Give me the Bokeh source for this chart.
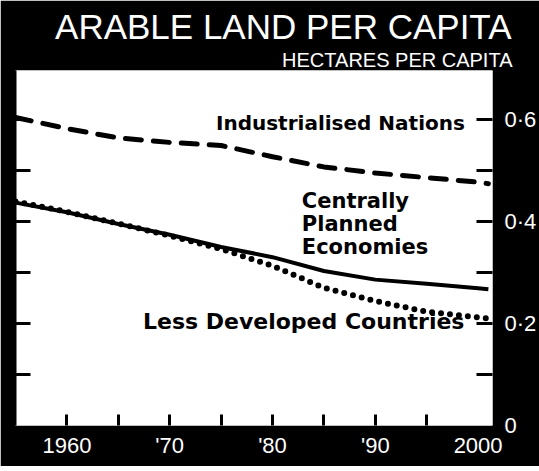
from bokeh.plotting import figure
from bokeh.models import LinearAxis, FixedTicker, Label, Range1d, Title
from bokeh.embed import file_html
from bokeh.resources import INLINE

# ---- data ----
years = [1955, 1960, 1965, 1970, 1975, 1980, 1985, 1990, 1995, 2000, 2001]
industrialised = [0.604, 0.582, 0.564, 0.555, 0.549, 0.527, 0.507, 0.495, 0.486, 0.477, 0.474]
centrally_planned = [0.437, 0.418, 0.395, 0.374, 0.350, 0.330, 0.303, 0.286, 0.278, 0.269, 0.267]
less_developed = [0.439, 0.419, 0.396, 0.372, 0.346, 0.313, 0.270, 0.244, 0.223, 0.212, 0.210]

x_label_ticks = [1960, 1970, 1980, 1990, 2000]
x_tick_labels = ["1960", "'70", "'80", "'90", "2000"]
x_tick_marks = [1960, 1965, 1970, 1975, 1980, 1985, 1990, 1995]
y_label_ticks = [0, 0.2, 0.4, 0.6]
y_tick_labels = ["0", "0·2", "0·4", "0·6"]
y_tick_marks = [0.1, 0.2, 0.3, 0.4, 0.5, 0.6]

title = "ARABLE LAND PER CAPITA"
subtitle = "HECTARES PER CAPITA"
x_start, x_end = 1955, 2001.4
y_start, y_end = 0, 0.696

p = figure(width=539, height=466, output_backend="svg", toolbar_location=None,
           title=None, x_range=Range1d(x_start, x_end), y_range=Range1d(y_start, y_end),
           y_axis_location="right",
           min_border_left=15, min_border_right=45, min_border_top=70, min_border_bottom=41)
p.border_fill_color = "black"
p.background_fill_color = "white"
p.outline_line_color = None
p.grid.visible = False

# x axis (bottom)
xa = p.xaxis[0]
xa.ticker = FixedTicker(ticks=x_label_ticks, minor_ticks=x_tick_marks)
xa.major_label_overrides = dict(zip(x_label_ticks, x_tick_labels))
xa.axis_line_color = None
xa.major_tick_line_color = None
xa.minor_tick_line_color = "black"
xa.minor_tick_line_width = 3
xa.minor_tick_in = 11
xa.minor_tick_out = 0
xa.major_label_text_color = "white"
xa.major_label_text_font = "Liberation Sans"
xa.major_label_text_font_size = "22px"
xa.major_label_standoff = 1

# y axis (right)
ya = p.yaxis[0]
ya.ticker = FixedTicker(ticks=y_label_ticks, minor_ticks=y_tick_marks)
ya.major_label_overrides = dict(zip(y_label_ticks, y_tick_labels))
ya.axis_line_color = None
ya.major_tick_line_color = None
ya.minor_tick_line_color = "black"
ya.minor_tick_line_width = 3
ya.minor_tick_in = 16
ya.minor_tick_out = 0
ya.major_label_text_color = "white"
ya.major_label_text_font = "Liberation Sans"
ya.major_label_text_font_size = "22px"
ya.major_label_standoff = 6

# left axis: tick marks only
la = LinearAxis(ticker=FixedTicker(ticks=[], minor_ticks=y_tick_marks))
la.axis_line_color = "black"
la.axis_line_width = 2
la.major_tick_line_color = None
la.minor_tick_line_color = "black"
la.minor_tick_line_width = 3
la.minor_tick_in = 15
la.minor_tick_out = 0
la.major_label_text_font_size = "0px"
la.major_label_standoff = 0
p.add_layout(la, "left")

# lines
p.line(years, less_developed, line_color="black", line_width=6,
       line_dash="0 9", line_cap="round")
p.line(years, centrally_planned, line_color="black", line_width=4)
p.line(years, industrialised, line_color="black", line_width=5,
       line_dash="16 12", line_cap="round")

# series labels
lab_font = "DejaVu Sans"
p.add_layout(Label(x=1974.5, y=0.569, text="Industrialised Nations", text_font=lab_font,
                   text_font_style="bold", text_font_size="20px", text_color="black"))
for txt, yy in zip(["Centrally", "Planned", "Economies"], [0.416, 0.372, 0.327]):
    p.add_layout(Label(x=1982.85, y=yy, text=txt, text_font=lab_font,
                       text_font_style="bold", text_font_size="21px", text_color="black"))
p.add_layout(Label(x=1967.4, y=0.180, text="Less Developed Countries", text_font=lab_font,
                   text_font_style="bold", text_font_size="22px", text_color="black"))

# titles (white on the black header band)
p.add_layout(Title(text=subtitle, align="right", offset=-20, standoff=0,
                   text_color="white", text_font="Liberation Sans",
                   text_font_style="normal", text_font_size="20px"), "above")
p.add_layout(Title(text=title, align="right", offset=-19, standoff=2,
                   text_color="white", text_font="Liberation Sans",
                   text_font_style="normal", text_font_size="35px"), "above")

open("out.html", "w").write(file_html(p, INLINE))
